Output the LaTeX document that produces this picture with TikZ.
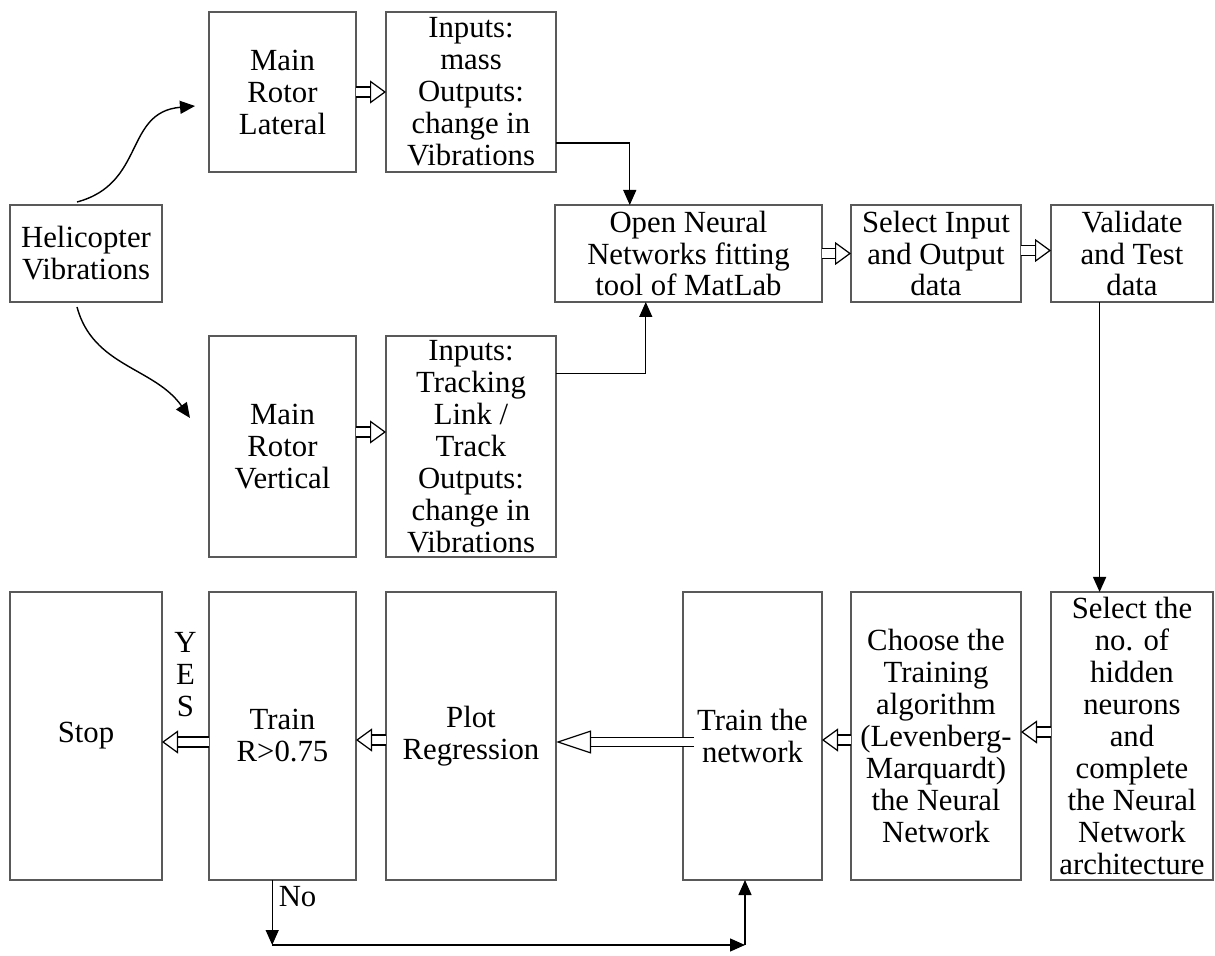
\documentclass[tikz,border=0pt]{standalone}
\usepackage{fontspec}
\setmainfont{Liberation Serif}
\usetikzlibrary{arrows.meta,positioning,calc}
\tikzset{
    box/.style={
        draw=black!65,
        line width=0.9pt,
        align=center,
        inner xsep=1pt,
        inner ysep=0pt,
        outer sep=0pt,
        font=\fontsize{17.5}{18.2}\selectfont
    },
    arrow/.style={
        -{Triangle[length=3mm,width=2.6mm]},
        line width=0.8pt
    },
    hollow/.style={
        double,
        double distance=5pt,
        line width=0.7pt,
        -{Triangle[open,fill=white,line width=0.7pt,length=3.2mm,width=4.6mm]}
    },
    bighollow/.style={
        double,
        double distance=4.4pt,
        line width=0.7pt,
        -{Triangle[open,fill=white,line width=0.7pt,length=7mm,width=4.6mm]}
    },
    lbl/.style={font=\fontsize{17.5}{18.2}\selectfont}
}

\begin{document}
\begin{tikzpicture}[node distance=6mm and 6mm]
\useasboundingbox (0,0) rectangle (24.3,-19.12);

% left column and the two rotor branches
\node[box, minimum width=3.04cm, minimum height=1.94cm] (helicopter) at (1.72,-5.07) {Helicopter\\Vibrations};
\node[box, minimum width=2.94cm, minimum height=3.2cm, above right=0.66cm and 0.94cm of helicopter] (lateral) {Main\\Rotor\\Lateral};
\node[box, minimum width=2.94cm, minimum height=4.42cm, below right=0.68cm and 0.94cm of helicopter] (vertical) {Main\\Rotor\\Vertical};
\node[box, minimum width=3.4cm, minimum height=3.2cm, right=0.6cm of lateral] (inmass) {Inputs:\\mass\\Outputs:\\change in\\Vibrations};
\node[box, minimum width=3.4cm, minimum height=4.42cm, right=0.6cm of vertical] (intrack) {Inputs:\\Tracking\\Link /\\Track\\Outputs:\\change in\\Vibrations};

% middle row
\node[box, minimum width=5.34cm, minimum height=1.94cm, right=7.86cm of helicopter] (fitting) {Open Neural\\Networks fitting\\tool of MatLab};
\node[box, minimum width=3.4cm, minimum height=1.94cm, right=0.58cm of fitting] (selectio) {Select Input\\and Output\\data};
\node[box, minimum width=3.24cm, minimum height=1.94cm, right=0.6cm of selectio] (validate) {Validate\\and Test\\data};

% bottom row
\node[box, minimum width=3.04cm, minimum height=5.76cm, below=5.8cm of helicopter] (stop) {Stop};
\node[box, minimum width=2.94cm, minimum height=5.76cm, right=0.94cm of stop] (trainr) {Train\\R>0.75};
\node[box, minimum width=3.4cm, minimum height=5.76cm, right=0.6cm of trainr] (plot) {Plot\\Regression};
\node[box, minimum width=2.78cm, minimum height=5.76cm, right=2.54cm of plot] (trainnet) {Train the\\network};
\node[box, minimum width=3.4cm, minimum height=5.76cm, right=0.58cm of trainnet] (choose) {Choose the\\Training\\algorithm\\(Levenberg-\\Marquardt)\\the Neural\\Network};
\node[box, minimum width=3.24cm, minimum height=5.76cm, right=0.6cm of choose] (hidden) {Select the\\no. of\\hidden\\neurons\\and\\complete\\the Neural\\Network\\architecture};

% curved branches
\coordinate (latin) at ($(lateral.west)+(-0.28,-0.28)$);
\coordinate (vertin) at ($(vertical.west)+(-0.38,0.57)$);
\draw[arrow] ($(helicopter.north)+(-0.18,0.06)$) to[out=15,in=185,looseness=1.2] (latin);
\draw[arrow] ($(helicopter.south)+(-0.18,-0.1)$) to[out=-75,in=125] (vertin);

% hollow arrows
\draw[hollow] (lateral) -- (inmass);
\draw[hollow] ([yshift=0.29cm]vertical.east) -- ([yshift=0.29cm]intrack.west);
\draw[hollow] (fitting) -- (selectio);
\draw[hollow] ([yshift=0.06cm]selectio.east) -- ([yshift=0.06cm]validate.west);
\draw[hollow] ([yshift=0.08cm]hidden.west) -- ([yshift=0.08cm]choose.east);
\draw[hollow] ([yshift=-0.08cm]choose.west) -- ([yshift=-0.08cm]trainnet.east);
\draw[bighollow] ([xshift=0.22cm,yshift=-0.12cm]trainnet.west) -- ([yshift=-0.12cm]plot.east);
\draw[hollow] ([yshift=-0.08cm]plot.west) -- ([yshift=-0.08cm]trainr.east);
\draw[hollow] ([yshift=-0.12cm]trainr.west) -- node[above=0.38cm, lbl, align=center] {Y\\E\\S} ([yshift=-0.12cm]stop.east);

% plain connectors
\coordinate (valout) at ($(validate.south west)!0.3!(validate.south east)$);
\draw[arrow] ($(inmass.north east)!0.82!(inmass.south east)$) -| ($(fitting.north west)!0.28!(fitting.north east)$);
\draw[arrow] ($(intrack.north east)!0.17!(intrack.south east)$) -| ($(fitting.south west)!0.34!(fitting.south east)$);
\draw[arrow] (valout) -- (valout |- hidden.north);

% retrain loop
\coordinate (nodown) at ($(trainr.south west)!0.43!(trainr.south east)+(0,-1.3)$);
\coordinate (netin) at ($(trainnet.south west)!0.446!(trainnet.south east)$);
\coordinate (noup) at (nodown -| netin);
\draw[arrow] ($(trainr.south west)!0.43!(trainr.south east)$) -- node[right, pos=0.26, lbl] {No} (nodown);
\draw[arrow] (nodown) -- (noup);
\draw[arrow] (noup) -- (netin);

\end{tikzpicture}
\end{document}
